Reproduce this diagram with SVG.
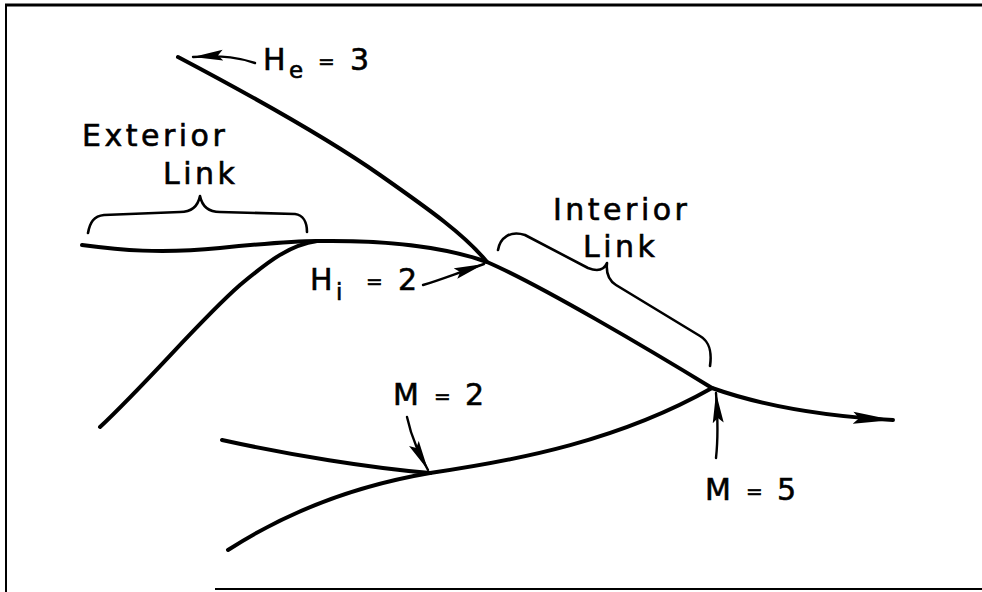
<svg xmlns="http://www.w3.org/2000/svg" width="982" height="592" viewBox="0 0 982 592">
<style>
.stream{fill:none;stroke:#000;stroke-width:4;stroke-linecap:round;stroke-linejoin:round}
.brace{fill:none;stroke:#000;stroke-width:2.6;stroke-linecap:round;stroke-linejoin:round}
.ptr{fill:none;stroke:#000;stroke-width:2.4;stroke-linecap:round}
.lbl{font-family:"DejaVu Sans","Liberation Sans",sans-serif;font-size:30px;fill:#000;stroke:#000;stroke-width:0.6;letter-spacing:3.5px}
.sub{font-size:23px;letter-spacing:0}
.eq{font-size:20px;letter-spacing:0}
.frame{stroke:#000;fill:none}
</style>
<defs>
<marker id="ah" markerWidth="34" markerHeight="14" refX="30" refY="7" orient="auto" markerUnits="userSpaceOnUse">
<path d="M0,1.5 L30,7 L0,12.5 L5,7 Z" fill="#000"/>
</marker>
<marker id="ahBig" markerWidth="44" markerHeight="16" refX="40" refY="8" orient="auto" markerUnits="userSpaceOnUse">
<path d="M0,2 L40,8 L0,14 L6,8 Z" fill="#000"/>
</marker>
</defs>
<g id="frame">
<line class="frame" x1="5" y1="5" x2="982" y2="5" stroke-width="3"/>
<line class="frame" x1="6" y1="5" x2="6" y2="592" stroke-width="2"/>
<line class="frame" x1="215" y1="589" x2="982" y2="589" stroke-width="2"/>
</g>
<g id="connectors">
<path id="main-stream" class="stream" d="M82,245 C120,250 160,254 220,248 C260,244 290,241 317,241 C380,240 440,245 487,262 C540,285 650,350 712,388 C760,405 820,416 893,420" marker-end="url(#ahBig)"/>
<path id="he-stream" class="stream" d="M178,57 C250,95 330,140 380,175 C430,210 465,235 487,262"/>
<path id="left-trib" class="stream" d="M100,427 C150,380 200,320 240,285 C270,260 290,245 317,241"/>
<path id="lower-upper" class="stream" d="M222,440 C290,455 370,468 430,473"/>
<path id="lower-lower" class="stream" d="M228,550 C290,510 360,485 430,473"/>
<path id="lower-main" class="stream" d="M430,473 C520,460 620,440 712,388"/>
<path id="he-arrow" class="ptr" d="M255,63 C240,58 225,55 193,57" marker-end="url(#ah)"/>
<path id="hi-arrow" class="ptr" d="M423,285 C440,280 460,272 484,264" marker-end="url(#ah)"/>
<path id="m2-arrow" class="ptr" d="M407,417 C412,440 420,455 428,470" marker-end="url(#ah)"/>
<path id="m5-arrow" class="ptr" d="M716,458 C718,440 718,420 716,393" marker-end="url(#ah)"/>
</g>
<g id="exterior-brace">
<path class="brace" d="M88,233 C90,222 94,216 104,215 L180,212 C192,212 198,206 200,196 C202,206 208,212 220,212 L295,214 C303,215 307,222 307,232"/>
</g>
<g id="interior-brace">
<path class="brace" d="M498,250 C500,238 510,230 525,235 L588,268 C598,272 604,270 607,263 C606,272 608,280 616,285 L700,336 C710,342 712,352 710,366"/>
</g>
<g id="label-he">
<text class="lbl" x="263" y="70">H<tspan class="sub" dy="8">e</tspan> <tspan class="eq" x="318" dy="-10">=</tspan> <tspan x="350" dy="2">3</tspan></text>
</g>
<g id="label-exterior">
<text class="lbl" x="82" y="146">Exterior</text>
<text class="lbl" x="163" y="184">Link</text>
</g>
<g id="label-interior">
<text class="lbl" x="553" y="220">Interior</text>
<text class="lbl" x="583" y="257">Link</text>
</g>
<g id="label-hi">
<text class="lbl" x="310" y="290">H<tspan class="sub" dy="10">i</tspan> <tspan class="eq" x="366" dy="-12">=</tspan> <tspan x="398" dy="2">2</tspan></text>
</g>
<g id="label-m2">
<text class="lbl" x="393" y="405">M <tspan class="eq" x="434" dy="-2">=</tspan> <tspan x="465" dy="2">2</tspan></text>
</g>
<g id="label-m5">
<text class="lbl" x="705" y="500">M <tspan class="eq" x="746" dy="-2">=</tspan> <tspan x="777" dy="2">5</tspan></text>
</g>
</svg>
